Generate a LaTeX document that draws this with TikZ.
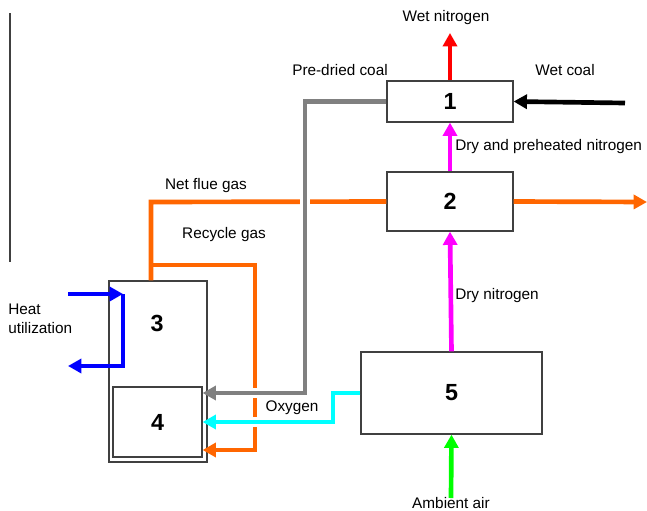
\documentclass[tikz,border=0pt]{standalone}
\usepackage{fontspec}
\setmainfont{Liberation Sans}
\usetikzlibrary{arrows.meta}
\definecolor{flueOrange}{RGB}{255,102,0}
\definecolor{coalGray}{RGB}{128,128,128}
\definecolor{boxBorder}{RGB}{64,64,64}
\definecolor{oxyCyan}{RGB}{0,255,255}
\definecolor{nitroMagenta}{RGB}{255,0,255}
\definecolor{airGreen}{RGB}{0,255,0}
\definecolor{wetRed}{RGB}{255,0,0}
\definecolor{heatBlue}{RGB}{0,0,255}
\begin{document}
\begin{tikzpicture}
% process scheme, one unit = one pixel of the sketch
\def\px{0.75pt}
\providecommand{\flowLineWidth}{3.5pt}
\providecommand{\haloLineWidth}{7.5pt}
\providecommand{\unitLineWidth}{0.9pt}
\begin{scope}[x=\px, y=-\px, line join=miter,
    flow/.style={line width=\flowLineWidth, -{Triangle[length=10pt,width=10.5pt]}},
    plain/.style={line width=\flowLineWidth},
    halo/.style={preaction={draw=white, line width=\haloLineWidth, -, shorten <=3pt, shorten >=12pt}},
    unit/.style={draw=boxBorder, line width=\unitLineWidth, inner sep=0pt,
      font=\fontsize{17.5}{20}\selectfont\bfseries},
    lbl/.style={font=\fontsize{11.5}{14}\selectfont, inner sep=0pt}]
  \useasboundingbox (0,0) rectangle (647,511);
  % Margin rule
  \draw[boxBorder, line width=1pt] (10,13) -- (10,262);
  % Units
  \node[unit, minimum width=126*\px, minimum height=41*\px] (dryer) at (450,101.5) {1};
  \node[unit, minimum width=126*\px, minimum height=59*\px] (heater) at (450,201.5) {2};
  \node[unit, minimum width=98*\px, minimum height=181*\px] (boiler) at (158,371.5) {};
  \node[unit, minimum width=89*\px, minimum height=70*\px] (furnace) at (157.5,422) {4};
  \node[unit, minimum width=181*\px, minimum height=82*\px] (asu) at (451.5,393) {5};
  \node[unit, draw=none] (boilerNo) at (157,323) {3};
  % Free ends
  \coordinate (wetNOut) at (450,33);
  \coordinate (wetCoalIn) at (625,103);
  \coordinate (flueOut) at (647,202);
  \coordinate (airIn) at (451,498);
  \coordinate (flueCorner) at (151,202);
  \coordinate (recycleTop) at (151,265);
  \coordinate (recycleLow) at (255,450);
  \coordinate (coalCorner) at (305,393);
  \coordinate (oxyCorner) at (333,422);
  \coordinate (heatIn) at (68,294);
  \coordinate (heatTurn) at (123,294);
  \coordinate (heatOut) at (68,366);
  % Flue gas and recycle gas
  \begin{scope}[draw=flueOrange, color=flueOrange]
    \draw[flow] (heater.east) -- (flueOut);
    \draw[plain] (heater.west) -- (flueCorner) -- (flueCorner |- boiler.north);
    \draw[flow] (recycleTop) -| (recycleLow) -- (recycleLow -| furnace.east);
  \end{scope}
  % Coal and oxygen
  \draw[flow, halo, coalGray] (dryer.west) -| (coalCorner) -- (coalCorner -| furnace.east);
  \draw[flow, halo, oxyCyan] (asu.west) -| (oxyCorner) -- (oxyCorner -| furnace.east);
  % Nitrogen, air and wet coal
  \draw[flow, wetRed] (dryer.north) -- (wetNOut);
  \draw[flow, black] (wetCoalIn) -- (dryer.east);
  \draw[flow, nitroMagenta] (heater.north) -- (dryer.south);
  \draw[flow, nitroMagenta] (asu.north) -- (heater.south);
  \draw[flow, airGreen] (airIn) -- (asu.south);
  % Heat utilization
  \draw[flow, heatBlue] (heatIn) -- (heatTurn);
  \draw[flow, heatBlue] (heatTurn) -- (heatTurn |- heatOut) -- (heatOut);
  % Labels
  \node[lbl] (lblWetN) at (446,18) {Wet nitrogen};
  \node[lbl] (lblPreDried) at (340,70) {Pre-dried coal};
  \node[lbl] (lblWetCoal) at (565,70) {Wet coal};
  \node[lbl, anchor=west] (lblDryPre) at (455,147) {Dry and preheated nitrogen};
  \node[lbl] (lblNetFlue) at (206,186) {Net flue gas};
  \node[lbl] (lblRecycle) at (224,235) {Recycle gas};
  \node[lbl, anchor=west] (lblDryN) at (455,296) {Dry nitrogen};
  \node[lbl] (lblOxygen) at (292,408) {Oxygen};
  \node[lbl] (lblAir) at (451,503) {Ambient air};
  \node[lbl, anchor=west, align=left] (lblHeat) at (8,319) {Heat\\utilization};
\end{scope}
\end{tikzpicture}
\end{document}
